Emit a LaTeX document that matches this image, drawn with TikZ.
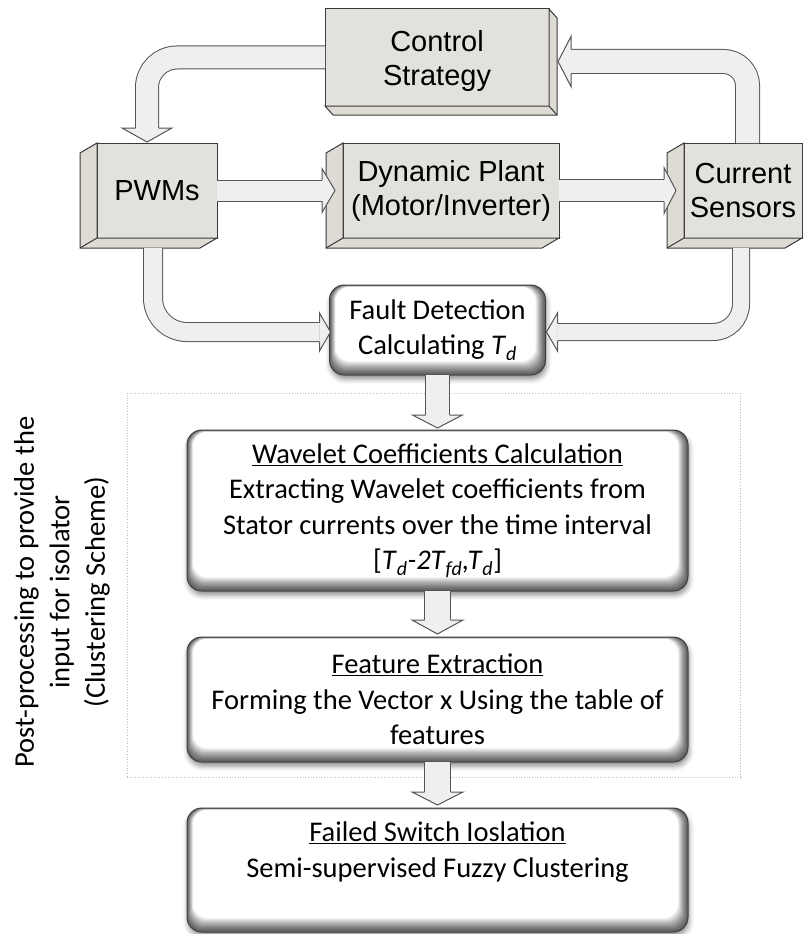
\documentclass[tikz,border=0pt]{standalone}
\usepackage{fontspec}
\setmainfont{Carlito}
\newfontfamily\arialfont{Liberation Sans}
\usetikzlibrary{calc,shadows.blur}

\definecolor{facegray}{HTML}{E3E1DC}
\definecolor{panelgray}{HTML}{DDDBD4}
\definecolor{edgegray}{HTML}{3A3A3A}
\definecolor{arrowfill}{HTML}{EFEFEF}
\definecolor{arrowedge}{HTML}{555555}
\definecolor{framegray}{HTML}{BDBDBD}

\tikzset{
  solid3d/.style={draw=edgegray, line width=1pt, fill=facegray, inner sep=0pt, outer sep=0pt,
    align=center, font=\arialfont\fontsize{29}{34}\selectfont},
  solidtext/.style={align=center, inner sep=0pt, font=\arialfont\fontsize{29}{34}\selectfont},
  panel/.style={draw=edgegray, line width=1pt, fill=panelgray, line join=miter},
  softbox/.style={rounded corners=15pt, inner sep=0pt, outer sep=0pt, fill=white,
    blur shadow={shadow xshift=1pt, shadow yshift=-4pt, shadow blur radius=5pt, shadow opacity=45}},
  softline/.style={draw=black!75, line width=1pt, rounded corners=15pt},
  boxtext/.style={align=center, font=\fontsize{28.5}{35.5}\selectfont, inner sep=0pt},
  shaft/.style={draw=arrowedge, line width=1pt, double=arrowfill},
  arrowbody/.style={draw=arrowedge, fill=arrowfill, line width=1pt, line join=miter},
  groupframe/.style={draw=framegray, line width=0.7pt, dotted, inner sep=0pt, outer sep=0pt}
}

% extrusion of a block towards the lower left: #1 node, #2 dx, #3 dy
\newcommand\extrudeL[3]{%
  \filldraw[panel] (#1.north west) -- ++(#2,#3) -- ($(#1.south west)+(#2,#3)$)
    -- ($(#1.south east)+(#2,#3)$) -- (#1.south east) -- (#1.south west) -- cycle;
  \draw[panel] (#1.south west) -- ++(#2,#3);
}
% extrusion of a block towards the lower right
\newcommand\extrudeR[3]{%
  \filldraw[panel] (#1.north east) -- ++(#2,#3) -- ($(#1.south east)+(#2,#3)$)
    -- ($(#1.south west)+(#2,#3)$) -- (#1.south west) -- (#1.south east) -- cycle;
  \draw[panel] (#1.south east) -- ++(#2,#3);
}
% soft bevel shading inside a rounded box
\newcommand\bevelfill[1]{%
  \foreach \k in {0,1,...,16}{%
    \pgfmathsetmacro\bvt{\k/16}%
    \pgfmathsetmacro\bvc{38+62*(\bvt^1.3)}%
    \fill[white!\bvc!black, rounded corners=14pt]
      ($(#1.north west)+(6*\bvt,2*\bvt)$) rectangle ($(#1.south east)+(-10*\bvt,-14*\bvt)$);
  }%
  \draw[softline] (#1.north west) rectangle (#1.south east);
}
% block arrow head: #1 tip, #2 direction, #3 length, #4 head half width, #5 shaft half width
\newcommand\blockhead[5]{%
  \begin{scope}[shift={#1}, rotate=#2]
    \filldraw[arrowbody] (-#3,#5) -- (-#3,#4) -- (0,0) -- (-#3,-#4) -- (-#3,-#5);
  \end{scope}
}

\begin{document}
\begin{tikzpicture}[x=1pt,y=-1pt]
\useasboundingbox (0,0) rectangle (804,934);

% dotted grouping frame
\node[groupframe, minimum width=613pt, minimum height=384pt] (grp) at (433.5,585) {};

% upper loop: solid blocks
\node[solid3d, minimum width=224pt, minimum height=97pt] (ctrl) at (437,57.5) {};
\extrudeR{ctrl}{8}{9}
\node[solidtext] (ctrltxt) at ($(ctrl.center)+(0,4)$) {Control\\Strategy};
\node[solid3d, minimum width=120pt, minimum height=95pt] (pwm) at (157,190.5) {PWMs};
\extrudeL{pwm}{-17}{10}
\node[solid3d, minimum width=216pt, minimum height=95pt] (dyn) at (451,190.5) {Dynamic Plant\\(Motor/Inverter)};
\extrudeL{dyn}{-17}{10}
\node[solid3d, minimum width=118pt, minimum height=95pt] (cur) at (743,190.5) {Current\\Sensors};
\extrudeL{cur}{-17}{10}

% rounded processing boxes
\node[softbox, minimum width=216pt, minimum height=90pt] (fd) at (437.5,330) {};
\bevelfill{fd}
\node[boxtext] (fdtxt) at (fd.center) {Fault Detection\\Calculating \textit{T}\textsubscript{\textit{d}}};

\node[softbox, minimum width=501pt, minimum height=161pt] (wav) at (437.5,510.5) {};
\bevelfill{wav}
\node[boxtext] (wavtxt) at (wav.center) {\underline{Wavelet Coefficients Calculation}\\
  Extracting Wavelet coefficients from\\Stator currents over the time interval\\
  {[}\textit{T}\textsubscript{\textit{d}}\textit{-2T}\textsubscript{\textit{fd}}\textit{,T}\textsubscript{\textit{d}}{]}};

\node[softbox, minimum width=501pt, minimum height=125pt] (feat) at (437.5,699.5) {};
\bevelfill{feat}
\node[boxtext] (feattxt) at (feat.center) {\underline{Feature Extraction}\\
  Forming the Vector x Using the table of\\features};

\node[softbox, minimum width=501pt, minimum height=124pt] (fail) at (437.5,870) {};
\bevelfill{fail}
\node[boxtext] (failtxt) at ($(fail.center)+(0,-18)$) {\underline{Failed Switch Ioslation}\\
  Semi-supervised Fuzzy Clustering};

% side note
\node[boxtext, rotate=90] (note) at (62,592) {Post-processing to provide the\\input for isolator\\(Clustering Scheme)};

% block arrows of the control loop
\draw[shaft, double distance=22pt, rounded corners=30pt] (ctrl.west) -| ($(pwm.north)+(-10,-15)$);
\blockhead{($(pwm.north)+(-10,-1)$)}{-90}{14}{25}{11.5}

\draw[shaft, double distance=23pt, rounded corners=24pt] ($(cur.north)+(4.5,0)$) |- ($(ctrl.east)+(22,4)$);
\blockhead{($(ctrl.east)+(9,4)$)}{180}{13}{25}{12}

\draw[shaft, double distance=20pt] (pwm.east) -- ($(dyn.west)+(-21,0)$);
\blockhead{($(dyn.west)+(-8,0)$)}{0}{13}{22}{10.5}

\draw[shaft, double distance=21pt] (dyn.east) -- ($(cur.west)+(-20,0)$);
\blockhead{($(cur.west)+(-8,0)$)}{0}{12}{23}{11}

% block arrows into fault detection
\draw[shaft, double distance=18pt, rounded corners=34pt] ($(pwm.south)+(-4,10)$) |- ($(fd.west)+(-10,2)$);
\blockhead{($(fd.west)+(1,2)$)}{0}{11}{19}{9.5}

\draw[shaft, double distance=16pt, rounded corners=28pt] ($(cur.south)+(-2,10)$) |- ($(fd.east)+(12,2)$);
\blockhead{($(fd.east)+(1,2)$)}{180}{11}{19}{8.5}

% block arrows of the post-processing chain
\draw[shaft, double distance=23pt] (fd.south) -- ($(wav.north)+(0,-15)$);
\blockhead{($(wav.north)+(0,-2)$)}{-90}{13}{25}{12}

\draw[shaft, double distance=25pt] (wav.south) -- ($(feat.north)+(0,-17)$);
\blockhead{($(feat.north)+(0,-3)$)}{-90}{14}{25.5}{13}

\draw[shaft, double distance=25pt] (feat.south) -- ($(fail.north)+(0,-16)$);
\blockhead{($(fail.north)+(0,-3)$)}{-90}{13}{25.5}{13}
\end{tikzpicture}
\end{document}
